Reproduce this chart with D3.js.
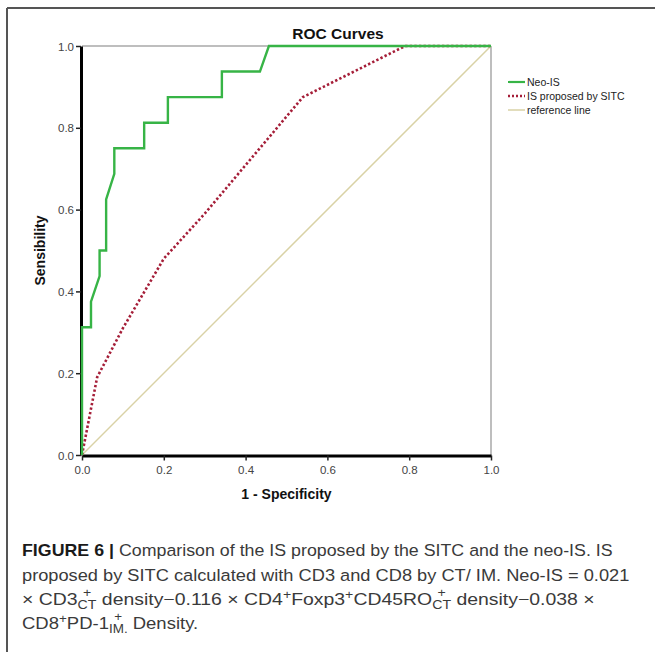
<!DOCTYPE html>
<html>
<head>
<meta charset="utf-8">
<script src="https://cdn.jsdelivr.net/npm/d3@7"></script>
<style>
  html, body { margin: 0; padding: 0; background: #fff; }
  svg { display: block; }
</style>
</head>
<body>
<svg id="chart" width="655" height="652"></svg>
<script>
// ---------------- data ----------------
const chartTitle = "ROC Curves";
const xLabel = "1 - Specificity";
const yLabel = "Sensibility";
const tickValues = [0, 0.2, 0.4, 0.6, 0.8, 1.0];
const seriesNames = ["Neo-IS", "IS proposed by SITC", "reference line"];
// Neo-IS ROC curve (1 - specificity, sensitivity)
const neoFpr = [0, 0, 0.022, 0.022, 0.043, 0.043, 0.059, 0.059, 0.079, 0.079, 0.152, 0.152, 0.21, 0.21, 0.342, 0.342, 0.435, 0.457, 1.0];
const neoTpr = [0, 0.3125, 0.3125, 0.375, 0.4375, 0.5, 0.5, 0.625, 0.6875, 0.75, 0.75, 0.8125, 0.8125, 0.875, 0.875, 0.9375, 0.9375, 1.0, 1.0];
// IS proposed by SITC ROC curve
const sitcFpr = [0, 0.037, 0.1, 0.2, 0.3, 0.54, 0.79, 1.0];
const sitcTpr = [0, 0.19, 0.31, 0.48, 0.59, 0.875, 1.0, 1.0];
// reference line
const refFpr = [0, 1];
const refTpr = [0, 1];

// ---------------- drawing ----------------
const svg = d3.select("#chart");
const FONT = "Arial, 'Liberation Sans', Helvetica, sans-serif";

svg.append("rect").attr("width", 655).attr("height", 652).attr("fill", "#fff");

// figure frame (top + left)
svg.append("line").attr("x1", 7).attr("x2", 655).attr("y1", 8).attr("y2", 8)
  .attr("stroke", "#555").attr("stroke-width", 2);
svg.append("line").attr("x1", 7).attr("x2", 7).attr("y1", 8).attr("y2", 652)
  .attr("stroke", "#555").attr("stroke-width", 2);

const x = d3.scaleLinear().domain([0, 1]).range([82, 491]);
const y = d3.scaleLinear().domain([0, 1]).range([455, 46]);

// plot border (top, right)
svg.append("line").attr("x1", x(0)).attr("x2", x(1)).attr("y1", y(1)).attr("y2", y(1))
  .attr("stroke", "#a8a8a8").attr("stroke-width", 1.5);
svg.append("line").attr("x1", x(1)).attr("x2", x(1)).attr("y1", y(0)).attr("y2", y(1))
  .attr("stroke", "#a8a8a8").attr("stroke-width", 1.5);

const line = d3.line().x(d => x(d[0])).y(d => y(d[1]));

// axes
const fmt = d3.format(".1f");
const gx = svg.append("g").attr("transform", `translate(0,${y(0) + 0.5})`)
  .call(d3.axisBottom(x).tickValues(tickValues).tickFormat(fmt).tickSize(5).tickSizeOuter(0));
const gy = svg.append("g").attr("transform", `translate(${x(0) - 1},0)`)
  .call(d3.axisLeft(y).tickValues(tickValues).tickFormat(fmt).tickSize(5).tickSizeOuter(0));
[gx, gy].forEach(g => {
  g.select(".domain").attr("stroke", "#000").attr("stroke-width", 3);
  g.selectAll(".tick line").attr("stroke", "#222").attr("stroke-width", 1.5);
  g.selectAll(".tick text").attr("fill", "#444").attr("font-size", 11.5).attr("font-family", FONT);
});
gy.selectAll(".tick text").attr("x", -7).attr("dy", "0.36em");
gx.selectAll(".tick text").attr("y", 10);

// reference line
svg.append("path").datum(d3.zip(refFpr, refTpr)).attr("d", line)
  .attr("fill", "none").attr("stroke", "#d9d2a6").attr("stroke-width", 1.5);
// SITC
svg.append("path").datum(d3.zip(sitcFpr, sitcTpr)).attr("d", line)
  .attr("fill", "none").attr("stroke", "#a51e38").attr("stroke-width", 2.6)
  .attr("stroke-dasharray", "2.4,2.2");
// Neo-IS
svg.append("path").datum(d3.zip(neoFpr, neoTpr)).attr("d", line)
  .attr("fill", "none").attr("stroke", "#37b446").attr("stroke-width", 2.4)
  .attr("stroke-linejoin", "miter");

// title & axis labels
svg.append("text").attr("x", 338).attr("y", 39).attr("text-anchor", "middle")
  .attr("font-family", FONT).attr("font-weight", "bold").attr("font-size", 15.5)
  .attr("fill", "#111").text(chartTitle);
svg.append("text").attr("x", (x(0) + x(1)) / 2).attr("y", 499).attr("text-anchor", "middle")
  .attr("font-family", FONT).attr("font-weight", "bold").attr("font-size", 14)
  .attr("fill", "#111").text(xLabel);
svg.append("text").attr("transform", `translate(45,${(y(0) + y(1)) / 2}) rotate(-90)`)
  .attr("text-anchor", "middle")
  .attr("font-family", FONT).attr("font-weight", "bold").attr("font-size", 14)
  .attr("fill", "#111").text(yLabel);

// legend
const legendStyles = [
  { stroke: "#37b446", width: 2.2, dash: null },
  { stroke: "#a51e38", width: 2.4, dash: "2,2" },
  { stroke: "#d9d2a6", width: 1.5, dash: null }
];
const lg = svg.append("g");
seriesNames.forEach((name, i) => {
  const yy = 82 + i * 14;
  lg.append("line").attr("x1", 508).attr("x2", 525).attr("y1", yy).attr("y2", yy)
    .attr("stroke", legendStyles[i].stroke).attr("stroke-width", legendStyles[i].width)
    .attr("stroke-dasharray", legendStyles[i].dash);
  lg.append("text").attr("x", 527).attr("y", yy).attr("dy", "0.35em")
    .attr("font-family", FONT).attr("font-size", 10.5).attr("fill", "#222").text(name);
});

// ---------------- caption ----------------
const CAP_FS = 16.5, SUB_FS = 12;
const measurer = svg.append("text").attr("font-family", FONT).attr("visibility", "hidden");
function textW(s, fs) {
  measurer.attr("font-size", fs).text(s);
  return measurer.node().getComputedTextLength();
}
// parts: [type, text]  type: n normal, b bold, sup, ss (stacked "+" over subscript text)
const captionLines = [
  { base: 556, end: 613, parts: [["b", "FIGURE 6 |"], ["n", " Comparison of the IS proposed by the SITC and the neo-IS. IS"]] },
  { base: 581, end: 630, parts: [["n", "proposed by SITC calculated with CD3 and CD8 by CT/ IM. Neo-IS = 0.021"]] },
  { base: 605, end: 595, parts: [["n", "× CD3"], ["ss", "CT"], ["n", " density−0.116 × CD4"], ["sup", "+"], ["n", "Foxp3"], ["sup", "+"], ["n", "CD45RO"], ["ss", "CT"], ["n", " density−0.038 ×"]] },
  { base: 629, end: null, parts: [["n", "CD8"], ["sup", "+"], ["n", "PD-1"], ["ss", "IM."], ["n", " Density."]] }
];
const scales = [];
captionLines.forEach(L => {
  const t = svg.append("text").attr("font-family", FONT).attr("font-size", CAP_FS)
    .attr("fill", "#3a3a3a").attr("x", 0).attr("y", 0)
    .attr("xml:space", "preserve").style("white-space", "pre");
  let level = 0;     // current baseline offset (negative = up)
  let pendingDx = 0; // horizontal correction to apply to next run
  L.parts.forEach(([type, s]) => {
    if (type === "n" || type === "b") {
      t.append("tspan").attr("dx", pendingDx).attr("dy", -level)
        .attr("font-weight", type === "b" ? "bold" : null)
        .attr("fill", type === "b" ? "#1a1a1a" : null).text(s);
      level = 0; pendingDx = 0;
    } else if (type === "sup") {
      t.append("tspan").attr("dx", pendingDx).attr("dy", -6.5 - level).attr("font-size", SUB_FS).text(s);
      level = -6.5; pendingDx = 0;
    } else if (type === "ss") {
      const wSub = textW(s, SUB_FS), wPlus = textW("+", SUB_FS);
      t.append("tspan").attr("dx", pendingDx).attr("dy", 4 - level).attr("font-size", SUB_FS).text(s);
      t.append("tspan").attr("dx", -(wSub + wPlus) / 2).attr("dy", -12).attr("font-size", SUB_FS).text("+");
      level = -8;
      pendingDx = (wSub - wPlus) / 2;
    }
  });
  let sx;
  if (L.end != null) {
    const w = t.node().getBBox().width;
    sx = (L.end - 22) / w;
    scales.push(sx);
  } else {
    sx = d3.mean(scales);
  }
  t.attr("transform", `translate(22,${L.base}) scale(${sx},1)`);
});
measurer.remove();
</script>
</body>
</html>
